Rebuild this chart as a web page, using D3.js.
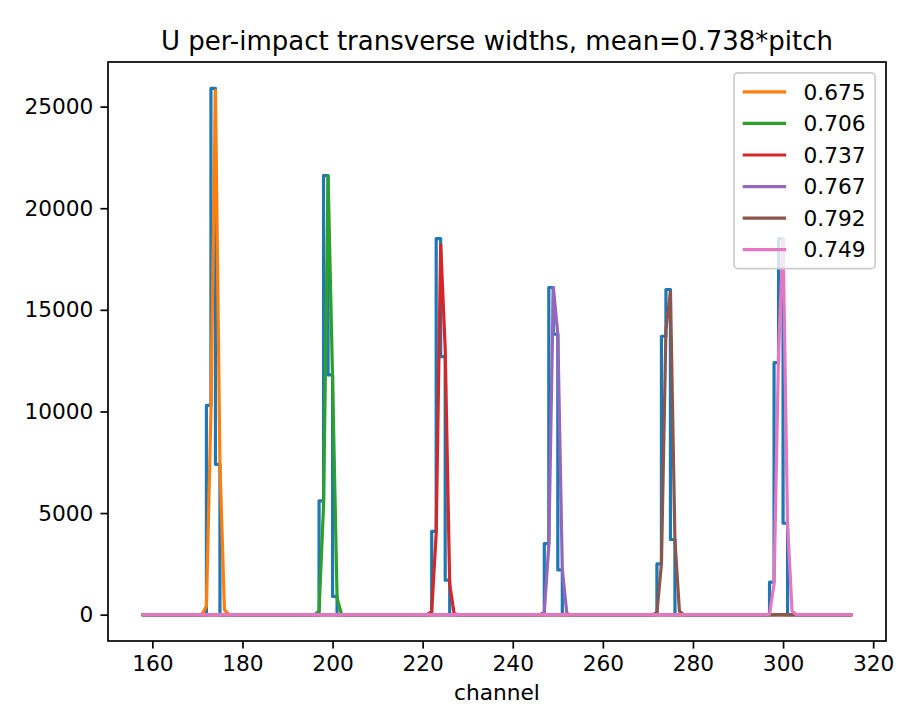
<!DOCTYPE html>
<html>
<head>
<meta charset="utf-8">
<script src="https://cdn.jsdelivr.net/npm/d3@7"></script>
<style>
  html, body { margin: 0; padding: 0; background: #ffffff; }
  svg { display: block; font-family: "DejaVu Sans", sans-serif; }
</style>
</head>
<body>
<svg id="chart" width="897" height="709"></svg>
<script>
// Channel span covered by the histogram and the fitted curves
const channelRange = [158, 315];

// Per-impact hit histogram: non-zero bins around each impact
const histChannels = [
  [173, 174, 175],
  [198, 199, 200, 201],
  [223, 224, 225, 226],
  [248, 249, 250, 251],
  [273, 274, 275, 276],
  [298, 299, 300, 301]
];
const histCounts = [
  [10300, 25900, 7400],
  [5600, 21600, 11800, 900],
  [4100, 18500, 12700, 1700],
  [3500, 16100, 13800, 2200],
  [2500, 13700, 16000, 3700],
  [1600, 12400, 18500, 4500]
];

// Fitted transverse profiles, one per impact
const fitLabels = ["0.675", "0.706", "0.737", "0.767", "0.792", "0.749"];
const fitColors = ["#ff7f0e", "#2ca02c", "#d62728", "#9467bd", "#8c564b", "#e377c2"];
const fitChannels = [
  [171, 172, 173, 174, 175, 176, 177],
  [196, 197, 198, 199, 200, 201, 202],
  [221, 222, 223, 224, 225, 226, 227],
  [246, 247, 248, 249, 250, 251, 252],
  [271, 272, 273, 274, 275, 276, 277],
  [296, 297, 298, 299, 300, 301, 302]
];
const fitValues = [
  [0, 430, 10000, 25800, 7400, 240, 0],
  [0, 180, 5400, 21600, 11600, 830, 10],
  [0, 140, 4000, 18200, 13100, 1500, 30],
  [0, 130, 3400, 16100, 13800, 2200, 60],
  [0, 90, 2500, 14000, 15900, 3650, 170],
  [0, 30, 1500, 12900, 18500, 4400, 180]
];

const xTicks = [160, 180, 200, 220, 240, 260, 280, 300, 320];
const yTicks = [0, 5000, 10000, 15000, 20000, 25000];

const titleText = "U per-impact transverse widths, mean=0.738*pitch";
const xLabelText = "channel";

// Layout
const margin = { left: 108, right: 886, top: 62, bottom: 641 };
const fontSize = 21.7;
const lineW = 3.2;

const svg = d3.select("#chart");

// Expand sparse entries onto the full channel axis (zero elsewhere)
const channels = d3.range(channelRange[0], channelRange[1] + 1);
function fullSeries(chs, vals) {
  const m = new Map(chs.map((c, i) => [c, vals[i]]));
  return channels.map(c => ({ x: c, y: m.has(c) ? m.get(c) : 0 }));
}
const histC = [].concat(...histChannels);
const histV = [].concat(...histCounts);
const histSeries = fullSeries(histC, histV);
const fitSeries = fitChannels.map((chs, i) => fullSeries(chs, fitValues[i]));

// Scales with 5% padding around the data
const allY = histSeries.map(d => d.y).concat(...fitSeries.map(s => s.map(d => d.y)));
const yMin = d3.min(allY), yMax = d3.max(allY);
const xPad = (channelRange[1] - channelRange[0]) * 0.05;
const yPad = (yMax - yMin) * 0.05;
const x = d3.scaleLinear()
  .domain([channelRange[0] - xPad, channelRange[1] + xPad])
  .range([margin.left, margin.right]);
const y = d3.scaleLinear()
  .domain([yMin - yPad, yMax + yPad])
  .range([margin.bottom, margin.top]);

// Clip to plot area
svg.append("defs").append("clipPath").attr("id", "plotClip")
  .append("rect")
  .attr("x", margin.left).attr("y", margin.top)
  .attr("width", margin.right - margin.left)
  .attr("height", margin.bottom - margin.top);

const plot = svg.append("g").attr("clip-path", "url(#plotClip)");

// Histogram as a step line (value drawn to the left of each channel)
const stepLine = d3.line().x(d => x(d.x)).y(d => y(d.y)).curve(d3.curveStepBefore);
plot.append("path")
  .datum(histSeries)
  .attr("d", stepLine)
  .attr("fill", "none")
  .attr("stroke", "#1f77b4")
  .attr("stroke-width", lineW)
  .attr("stroke-linejoin", "round")
  .attr("stroke-linecap", "square");

// Fitted profiles
const fitLine = d3.line().x(d => x(d.x)).y(d => y(d.y));
fitSeries.forEach((s, i) => {
  plot.append("path")
    .datum(s)
    .attr("d", fitLine)
    .attr("fill", "none")
    .attr("stroke", fitColors[i])
    .attr("stroke-width", lineW)
    .attr("stroke-linejoin", "round")
    .attr("stroke-linecap", "square");
});

// Axes
const tickLen = 7.6;
const xAxis = svg.append("g")
  .attr("transform", `translate(0,${margin.bottom})`)
  .call(d3.axisBottom(x).tickValues(xTicks).tickFormat(d3.format("d"))
    .tickSizeInner(tickLen).tickSizeOuter(0).tickPadding(7));
const yAxis = svg.append("g")
  .attr("transform", `translate(${margin.left},0)`)
  .call(d3.axisLeft(y).tickValues(yTicks).tickFormat(d3.format("d"))
    .tickSizeInner(tickLen).tickSizeOuter(0).tickPadding(7));

[xAxis, yAxis].forEach(ax => {
  ax.select(".domain").remove();
  ax.selectAll(".tick line").attr("stroke", "#000").attr("stroke-width", 1.7);
  ax.selectAll(".tick text")
    .attr("fill", "#000")
    .style("font-size", fontSize + "px")
    .style("font-family", "'DejaVu Sans', sans-serif");
});

// Frame
svg.append("rect")
  .attr("x", margin.left).attr("y", margin.top)
  .attr("width", margin.right - margin.left)
  .attr("height", margin.bottom - margin.top)
  .attr("fill", "none")
  .attr("stroke", "#000")
  .attr("stroke-width", 1.7);

// Title and axis label
svg.append("text")
  .attr("x", (margin.left + margin.right) / 2)
  .attr("y", 50)
  .attr("text-anchor", "middle")
  .style("font-size", "26px")
  .attr("fill", "#000")
  .text(titleText);

svg.append("text")
  .attr("x", (margin.left + margin.right) / 2)
  .attr("y", 700)
  .attr("text-anchor", "middle")
  .style("font-size", fontSize + "px")
  .attr("fill", "#000")
  .text(xLabelText);

// Legend (upper right)
const pad = fontSize * 0.4;
const handleLen = fontSize * 2;
const handleGap = fontSize * 0.8;
const rowH = 20.7;
const rowGap = fontSize * 0.5;
const legRight = margin.right - fontSize * 0.5;
const legTop = margin.top + fontSize * 0.5;
const textW = 63;
const legW = pad * 2 + handleLen + handleGap + textW;
const legH = pad * 2 + fitLabels.length * rowH + (fitLabels.length - 1) * rowGap;
const legLeft = legRight - legW;

const legend = svg.append("g");
legend.append("rect")
  .attr("x", legLeft).attr("y", legTop)
  .attr("width", legW).attr("height", legH)
  .attr("rx", 4).attr("ry", 4)
  .attr("fill", "rgba(255,255,255,0.8)")
  .attr("stroke", "#cccccc")
  .attr("stroke-width", 1.7);

fitLabels.forEach((lab, i) => {
  const cy = legTop + pad + rowH / 2 + i * (rowH + rowGap);
  legend.append("line")
    .attr("x1", legLeft + pad).attr("x2", legLeft + pad + handleLen)
    .attr("y1", cy).attr("y2", cy)
    .attr("stroke", fitColors[i])
    .attr("stroke-width", lineW);
  legend.append("text")
    .attr("x", legLeft + pad + handleLen + handleGap)
    .attr("y", cy)
    .attr("dy", "0.36em")
    .style("font-size", fontSize + "px")
    .attr("fill", "#000")
    .text(lab);
});
</script>
</body>
</html>
